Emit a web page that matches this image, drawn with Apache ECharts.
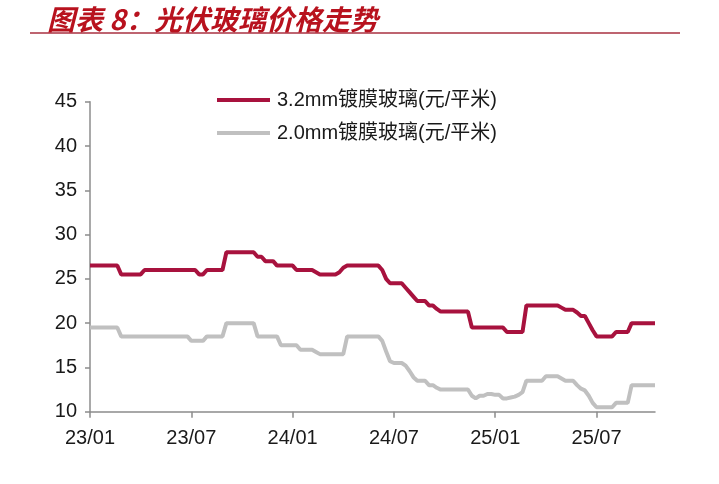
<!DOCTYPE html>
<html>
<head>
<meta charset="utf-8">
<script src="https://cdn.jsdelivr.net/npm/echarts@6/dist/echarts.min.js"></script>
<style>html,body{margin:0;padding:0;background:#fff;}#c{width:719px;height:484px;}</style>
</head>
<body>
<div id="c"></div>
<script>
// Weekly observations starting 2023-01-06
var startDate = '2023-01-06';
var weekCount = 146;
var seriesNames = ['3.2mm镀膜玻璃(元/平米)', '2.0mm镀膜玻璃(元/平米)'];
var xTickLabels = ['23/01', '23/07', '24/01', '24/07', '25/01', '25/07'];
var yTicks = [10, 15, 20, 25, 30, 35, 40, 45];

var glass32 = [
  26.5,26.5,26.5,26.5,26.5,26.5,26.5,26.5,
  25.5,25.5,25.5,25.5,25.5,25.5,
  26,26,26,26,26,26,26,26,26,26,26,26,26,26,
  25.5,25.5,
  26,26,26,26,26,
  28,28,28,28,28,28,28,28,
  27.5,27.5,
  27,27,27,
  26.5,26.5,26.5,26.5,26.5,
  26,26,26,26,26,
  25.75,
  25.5,25.5,25.5,25.5,25.5,
  25.75,26.25,
  26.5,26.5,26.5,26.5,26.5,26.5,26.5,26.5,26.5,
  26,25,
  24.5,24.5,24.5,24.5,
  24,23.5,23,
  22.5,22.5,22.5,
  22,22,
  21.6,
  21.3,21.3,21.3,21.3,21.3,21.3,21.3,21.3,
  19.5,19.5,19.5,19.5,19.5,19.5,19.5,19.5,19.5,
  19,19,19,19,19,
  22,22,22,22,22,22,22,22,22,
  21.75,
  21.5,21.5,21.5,
  21.2,
  20.8,20.8,
  20,19.2,
  18.5,18.5,18.5,18.5,18.5,
  19,19,19,19,
  20,20,20,20,20,20,20
];

var glass20 = [
  19.5,19.5,19.5,19.5,19.5,19.5,19.5,19.5,
  18.5,18.5,18.5,18.5,18.5,18.5,18.5,18.5,18.5,18.5,18.5,18.5,18.5,18.5,18.5,18.5,18.5,18.5,
  18,18,18,18,
  18.5,18.5,18.5,18.5,18.5,
  20,20,20,20,20,20,20,20,
  18.5,18.5,18.5,18.5,18.5,18.5,
  17.5,17.5,17.5,17.5,17.5,
  17,17,17,17,
  16.75,
  16.5,16.5,16.5,16.5,16.5,16.5,16.5,
  18.5,18.5,18.5,18.5,18.5,18.5,18.5,18.5,18.5,
  18,16.8,15.7,
  15.5,15.5,15.5,
  15.2,14.6,13.9,
  13.5,13.5,13.5,
  13,13,
  12.7,
  12.5,12.5,12.5,12.5,12.5,12.5,12.5,12.5,
  11.8,11.5,11.8,11.8,12,12,11.9,11.9,11.5,11.5,11.6,11.7,11.9,12.2,
  13.5,13.5,13.5,13.5,13.5,
  14,14,14,14,
  13.75,
  13.5,13.5,13.5,
  13,12.6,12.4,11.8,11,
  10.5,10.5,10.5,10.5,10.5,
  11,11,11,11,
  13,13,13,13,13,13,13
];

function pad(n){ return (n < 10 ? '0' : '') + n; }
var dates = [];
(function(){
  var d0 = new Date(startDate + 'T00:00:00Z');
  for (var i = 0; i < weekCount; i++) {
    var d = new Date(d0.getTime() + i * 7 * 86400000);
    dates.push(d.getUTCFullYear() + '-' + pad(d.getUTCMonth() + 1) + '-' + pad(d.getUTCDate()));
  }
})();
function shortLabel(v){ return v.slice(2, 4) + '/' + v.slice(5, 7); }
function isTick(idx) {
  var lbl = shortLabel(dates[idx]);
  if (xTickLabels.indexOf(lbl) < 0) return false;
  return idx === 0 || shortLabel(dates[idx - 1]) !== lbl;
}

var chart = echarts.init(document.getElementById('c'), null, {renderer: 'canvas'});
var fontLatin = '"Liberation Sans", Arial, "Noto Sans CJK SC", sans-serif';
chart.setOption({
  animation: false,
  backgroundColor: '#ffffff',
  title: {
    text: '图表 8：光伏玻璃价格走势',
    left: 42, top: 0,
    textStyle: {
      color: '#B8121E', fontSize: 28, fontStyle: 'italic', fontWeight: 'bold',
      fontFamily: '"Noto Sans CJK SC", sans-serif'
    }
  },
  graphic: [{
    type: 'line',
    shape: {x1: 30, y1: 33, x2: 680, y2: 33},
    style: {stroke: '#A83040', lineWidth: 1.5}
  }],
  legend: {
    orient: 'vertical',
    left: 212, top: 85,
    itemWidth: 53, itemHeight: 4,
    itemGap: 13,
    icon: 'rect',
    data: seriesNames,
    textStyle: {fontSize: 20, color: '#1a1a1a', fontFamily: fontLatin, padding: [0, 0, 0, 2]}
  },
  grid: {left: 90, right: 64, top: 101.7, bottom: 72.3},
  xAxis: {
    type: 'category',
    data: dates,
    boundaryGap: false,
    axisLine: {lineStyle: {color: '#8c8c8c', width: 1.5}},
    axisTick: {show: true, length: 6, interval: function(i){ return isTick(i); }, lineStyle: {color: '#8c8c8c', width: 1.5}},
    axisLabel: {
      interval: function(i){ return isTick(i); },
      formatter: function(v){ return shortLabel(v); },
      color: '#1a1a1a', fontSize: 20, margin: 17, fontFamily: fontLatin
    },
    splitLine: {show: false}
  },
  yAxis: {
    type: 'value',
    min: yTicks[0], max: yTicks[yTicks.length - 1], interval: 5,
    axisLine: {show: true, lineStyle: {color: '#8c8c8c', width: 1.5}},
    axisTick: {show: true, length: 5, lineStyle: {color: '#8c8c8c', width: 1.5}},
    axisLabel: {color: '#1a1a1a', fontSize: 20, margin: 13, fontFamily: fontLatin},
    splitLine: {show: false}
  },
  series: [
    {name: seriesNames[0], type: 'line', data: glass32, showSymbol: false, symbol: 'none',
     lineStyle: {color: '#A8123E', width: 4}, itemStyle: {color: '#A8123E'}},
    {name: seriesNames[1], type: 'line', data: glass20, showSymbol: false, symbol: 'none',
     lineStyle: {color: '#C0C0C0', width: 4}, itemStyle: {color: '#C0C0C0'}}
  ]
});
</script>
</body>
</html>
